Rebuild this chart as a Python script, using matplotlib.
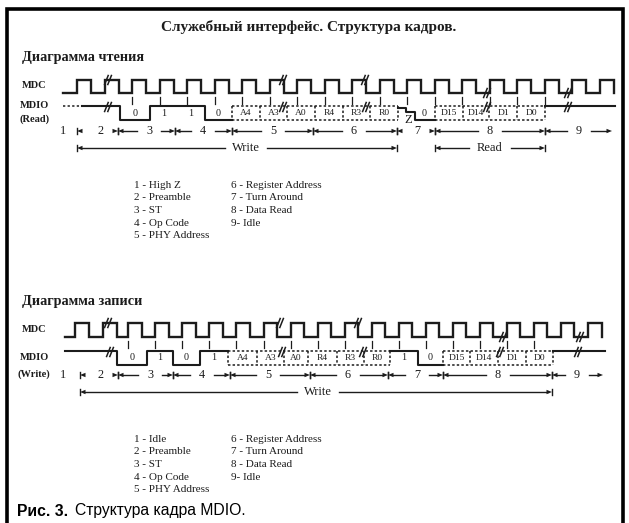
import matplotlib
matplotlib.use("Agg")
import matplotlib.pyplot as plt

W, H = 629, 523
INK = "#1c1c1c"
SERIF = "Liberation Serif"

# ---- read frame (x positions in px along the diagram) ----
RD_CLK_RISE = [77, 105, 132, 159.5, 187, 214.5, 242, 269.5, 297, 324.5, 352,
               379.5, 407, 434.5, 462, 489.5, 517, 544.5, 572, 599.5]
RD_CLK_BREAKS = [(108, "hi"), (283, "hi"), (365, "hi"), (487, "lo"), (568, "lo")]
RD_BIT_EDGES = [82, 120, 150, 177, 205, 232]
RD_BIT_LEVELS = [1, 0, 1, 1, 0]
RD_BIT_TEXT = ["", "0", "1", "1", "0"]
RD_ADDR_EDGES = [232, 260, 287, 315, 343, 370, 398]
RD_ADDR_TEXT = ["A4", "A3", "A0", "R4", "R3", "R0"]
RD_TA_EDGES = [398, 406, 415, 435]
RD_TA_LEVELS = [0.85, 0.55, 0]
RD_DATA_EDGES = [435, 463, 489, 517, 545]
RD_DATA_TEXT = ["D15", "D14", "D1", "D0"]
RD_IDLE = [545, 615]
RD_IO_BREAKS = [108, 283, 366, 487, 568]
RD_SEG_BOUNDS = [77, 118, 175, 232, 313, 397, 435, 545]
RD_SEG_LABEL_X = [63, 101, 149, 203, 273, 354, 417, 490, 579]
RD_SEG_END = 612
RD_LEGEND = ["1 - High Z", "2 - Preamble", "3 - ST", "4 - Op Code", "5 - PHY Address",
             "6 - Register Address", "7 - Turn Around", "8 - Data Read", "9- Idle"]

# ---- write frame ----
WR_CLK_RISE = [75, 103, 128, 155, 182, 209, 236, 263.5, 290.5, 317.5, 344.5,
               371.5, 398.5, 425.5, 452.5, 479.5, 506.5, 533.5, 560.5, 588]
WR_CLK_BREAKS = [(108, "hi"), (280, "hi"), (358, "hi"), (503, "lo"), (580, "lo")]
WR_BIT_EDGES = [65, 117, 147, 173, 200, 228]
WR_BIT_LEVELS = [1, 0, 1, 0, 1]
WR_BIT_TEXT = ["", "0", "1", "0", "1"]
WR_ADDR_EDGES = [228, 257, 284, 308, 337, 364, 390]
WR_ADDR_TEXT = ["A4", "A3", "A0", "R4", "R3", "R0"]
WR_TA_EDGES = [390, 418, 443]
WR_TA_LEVELS = [1, 0]
WR_TA_TEXT = ["1", "0"]
WR_DATA_EDGES = [443, 470, 498, 526, 553]
WR_DATA_TEXT = ["D15", "D14", "D1", "D0"]
WR_IDLE = [553, 605]
WR_IO_BREAKS = [110, 282, 363, 500, 578]
WR_SEG_BOUNDS = [80, 118, 173, 230, 310, 388, 443, 552]
WR_SEG_LABEL_X = [63, 100, 150, 202, 268, 348, 417, 498, 577]
WR_SEG_END = 603
WR_LEGEND = ["1 - Idle", "2 - Preamble", "3 - ST", "4 - Op Code", "5 - PHY Address",
             "6 - Register Address", "7 - Turn Around", "8 - Data Read", "9- Idle"]

fig = plt.figure(figsize=(W / 100, H / 100), dpi=100)
ax = fig.add_axes([0, 0, 1, 1])
ax.set_xlim(0, W)
ax.set_ylim(H, 0)
ax.axis("off")


def clock(rises, half, x0, yh, yl, breaks):
    xs, ys = [x0], [yl]
    for r in rises:
        xs += [r, r, r + half, r + half]
        ys += [yl, yh, yh, yl]
    ax.plot(xs, ys, color=INK, lw=1.7, solid_joinstyle="miter")
    for x, lv in breaks:
        brk(x, yh if lv == "hi" else yl)


def brk(x, y, h=4.5):
    for dx in (-1.6, 1.6):
        ax.plot([x + dx - 1.8, x + dx + 1.8], [y + h, y - h], color=INK, lw=1.1)


def steps(edges, levels, yh, yl, **kw):
    xs, ys = [], []
    for i, lv in enumerate(levels):
        y = yl + (yh - yl) * lv
        xs += [edges[i], edges[i + 1]]
        ys += [y, y]
    ax.plot(xs, ys, color=INK, lw=1.5, **kw)


def cell_text(edges, texts, y, size):
    for i, t in enumerate(texts):
        if t:
            ax.text((edges[i] + edges[i + 1]) / 2, y, t, ha="center", va="center",
                    fontsize=size, family=SERIF, color=INK)


def boxes(edges, texts, yh, yl):
    dot = (0, (1.6, 1.4))
    ax.plot([edges[0], edges[-1]], [yh, yh], color=INK, lw=1.1, ls=dot)
    ax.plot([edges[0], edges[-1]], [yl, yl], color=INK, lw=1.1, ls=dot)
    for e in edges:
        ax.plot([e, e], [yh, yl], color=INK, lw=1.1, ls=dot)
    cell_text(edges, texts, (yh + yl) / 2, 6.8)


def head(x, y, left=True, bar=True, w=5.5, h=2.2):
    d = -1 if left else 1
    ax.fill([x, x - d * w, x - d * w], [y, y - h, y + h], color=INK, lw=0)
    if bar:
        ax.plot([x, x], [y - 3, y + 3], color=INK, lw=1)


def seg_row(bounds, label_x, end, y):
    for i, lx in enumerate(label_x):
        ax.text(lx, y, str(i + 1), ha="center", va="center", fontsize=8.8,
                family=SERIF, color=INK)
    pts = bounds + [end]
    for i in range(len(pts) - 1):
        a, b = pts[i], pts[i + 1]
        lx = label_x[i + 1]
        head(a, y, left=True)
        last = i == len(pts) - 2
        head(b, y, left=False, bar=not last)
        if b - a > 45:
            ax.plot([a + 5, lx - 12], [y, y], color=INK, lw=1)
            ax.plot([lx + 12, b - 5], [y, y], color=INK, lw=1)


def span(a, b, text, lx, y):
    head(a, y, left=True)
    head(b, y, left=False)
    ax.plot([a + 4, lx - 21], [y, y], color=INK, lw=1)
    ax.plot([lx + 21, b - 4], [y, y], color=INK, lw=1)
    ax.text(lx, y, text, ha="center", va="center", fontsize=9, family=SERIF, color=INK)


def legend(items, x1, x2, y0, dy):
    for i, t in enumerate(items):
        x, y = (x1, y0 + i * dy) if i < 5 else (x2, y0 + (i - 5) * dy)
        ax.text(x, y, t, ha="left", va="center", fontsize=8, family=SERIF, color=INK)


def label(x, y, t):
    ax.text(x, y, t, ha="left", va="center", fontsize=7.5, family=SERIF,
            weight="bold", color=INK)


# frame
ax.plot([6.5, 6.5, 623, 623], [H, 9, 9, H], color="black", lw=2.6,
        solid_joinstyle="miter")

ax.text(309, 27, "Служебный интерфейс. Структура кадров.", ha="center", va="center",
        fontsize=11, family=SERIF, weight="bold", color=INK)

# ---------- read diagram ----------
ax.text(22, 58, "Диаграмма чтения", ha="left", va="center", fontsize=10.3,
        family=SERIF, weight="bold", color=INK)
label(22, 86, "MDC")
label(20, 106, "MDIO")
label(20, 119, "(Read)")

yh, yl = 106, 120
clock(RD_CLK_RISE, 14, 63, 80, 93, RD_CLK_BREAKS)
for r in RD_CLK_RISE[2:18]:
    ax.plot([r, r], [96.5, 103.5], color=INK, lw=0.9)
ax.plot([63, RD_BIT_EDGES[0]], [yh, yh], color=INK, lw=1.1, ls=(0, (1.5, 1.5)))
steps(RD_BIT_EDGES, RD_BIT_LEVELS, yh, yl)
cell_text(RD_BIT_EDGES, RD_BIT_TEXT, 113, 7.3)
boxes(RD_ADDR_EDGES, RD_ADDR_TEXT, yh, yl)
steps(RD_TA_EDGES, RD_TA_LEVELS, yh, yl)
ax.text(408, 120, "Z", ha="center", va="center", fontsize=9, family=SERIF, color=INK)
ax.text(424, 113, "0", ha="center", va="center", fontsize=7.3, family=SERIF, color=INK)
boxes(RD_DATA_EDGES, RD_DATA_TEXT, yh, yl)
steps(RD_IDLE, [1], yh, yl)
for x in RD_IO_BREAKS:
    brk(x, yh + 1)

seg_row(RD_SEG_BOUNDS, RD_SEG_LABEL_X, RD_SEG_END, 131)
span(RD_SEG_BOUNDS[0], RD_SEG_BOUNDS[5], "Write", 246, 148)
span(RD_SEG_BOUNDS[6], RD_SEG_BOUNDS[7], "Read", 490, 148)
legend(RD_LEGEND, 134, 231, 185, 12.7)

# ---------- write diagram ----------
ax.text(22, 302, "Диаграмма записи", ha="left", va="center", fontsize=10.3,
        family=SERIF, weight="bold", color=INK)
label(22, 330, "MDC")
label(20, 358, "MDIO")
label(18, 374, "(Write)")

yh, yl = 351, 365
clock(WR_CLK_RISE, 13.5, 65, 323, 337, WR_CLK_BREAKS)
for r in WR_CLK_RISE[2:18]:
    ax.plot([r, r], [341, 348], color=INK, lw=0.9)
steps(WR_BIT_EDGES, WR_BIT_LEVELS, yh, yl)
cell_text(WR_BIT_EDGES, WR_BIT_TEXT, 358, 7.3)
boxes(WR_ADDR_EDGES, WR_ADDR_TEXT, yh, yl)
steps(WR_TA_EDGES, WR_TA_LEVELS, yh, yl)
cell_text(WR_TA_EDGES, WR_TA_TEXT, 358, 7.3)
boxes(WR_DATA_EDGES, WR_DATA_TEXT, yh, yl)
steps(WR_IDLE, [1], yh, yl)
for x in WR_IO_BREAKS:
    brk(x, yh + 1)

seg_row(WR_SEG_BOUNDS, WR_SEG_LABEL_X, WR_SEG_END, 375)
span(WR_SEG_BOUNDS[0], WR_SEG_BOUNDS[7], "Write", 318, 392)
legend(WR_LEGEND, 134, 231, 439, 12.7)

# caption
ax.text(17, 511, "Рис. 3.", ha="left", va="center", fontsize=11.3,
        family="Liberation Sans", weight="bold", color="black")
ax.text(75, 511, "Структура кадра MDIO.", ha="left", va="center", fontsize=11.3,
        family="Liberation Sans", color="black")

fig.savefig("out.png", dpi=100)
